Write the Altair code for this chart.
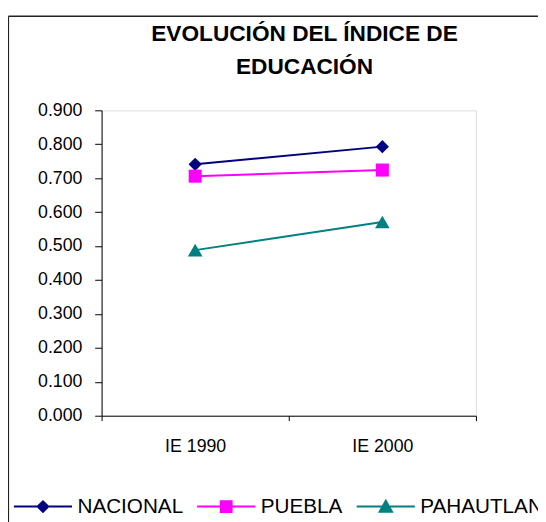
import altair as alt
import pandas as pd

categories = ["IE 1990", "IE 2000"]
series = ["NACIONAL", "PUEBLA", "PAHAUTLAN"]
nacional = [0.741, 0.793]
puebla = [0.706, 0.724]
pahautlan = [0.488, 0.571]
colors = ["#000080", "#FF00FF", "#008080"]
plot_shapes = ["diamond", "square", "triangle-up"]
plot_sizes = [180, 175, 220]
legend_shapes = [
    "M-1,-0.034H1V0.034H-1ZM0,-0.23L0.23,0L0,0.23L-0.23,0Z",
    "M-1,-0.034H1V0.034H-1ZM-0.22,-0.22H0.22V0.22H-0.22Z",
    "M-1,-0.034H1V0.034H-1ZM0,-0.27L0.27,0.21L-0.27,0.21Z",
]
y_ticks = [0.0, 0.1, 0.2, 0.3, 0.4, 0.5, 0.6, 0.7, 0.8, 0.9]

rows = []
for name, vals in zip(series, [nacional, puebla, pahautlan]):
    for c, v in zip(categories, vals):
        rows.append({"serie": name, "cat": c, "valor": v})
df = pd.DataFrame(rows)

FONT = "Liberation Sans"

x = alt.X(
    "cat:N",
    title=None,
    sort=categories,
    scale=alt.Scale(type="band", paddingInner=0, paddingOuter=0),
    axis=alt.Axis(
        labelAngle=0, tickBand="extent", tickSize=5, labelPadding=17,
        labelFontSize=18, labelFont=FONT, labelColor="black",
        domainColor="black", tickColor="black", grid=False,
    ),
)
y = alt.Y(
    "valor:Q",
    title=None,
    scale=alt.Scale(domain=[0, 0.9], nice=False, zero=True),
    axis=alt.Axis(
        values=y_ticks, format=".3f", tickSize=7, labelPadding=13,
        labelFontSize=18, labelFont=FONT, labelColor="black",
        domainColor="black", tickColor="black", grid=False,
    ),
)

base = alt.Chart(df)

series_layers = []
for s, col, shp, sz in zip(series, colors, plot_shapes, plot_sizes):
    sub = base.transform_filter(alt.datum.serie == s)
    series_layers.append(sub.mark_line(strokeWidth=2, color=col).encode(x=x, y=y))
    series_layers.append(
        sub.mark_point(filled=True, opacity=1, strokeWidth=0, shape=shp, size=sz, color=col)
        .encode(x=x, y=y)
    )

leg = alt.Legend(
    title=None, orient="none", legendX=-89, legendY=372.5, direction="horizontal",
    columnPadding=14, labelOffset=5.5, symbolSize=3481, symbolStrokeWidth=0,
    symbolOpacity=1,
    labelFontSize=21, labelFont=FONT, labelColor="black", padding=0,
)
legend_layer = base.mark_point(filled=True, strokeWidth=0, opacity=1).encode(
    x=x, y=y,
    color=alt.Color("serie:N", scale=alt.Scale(domain=series, range=colors), legend=leg),
    shape=alt.Shape("serie:N", scale=alt.Scale(domain=series, range=legend_shapes), legend=leg),
    size=alt.value(0),
)

frame_df = pd.DataFrame({"k": [0]})
frame_left = alt.Chart(frame_df).mark_rule(color="#222222", strokeWidth=1.2).encode(
    x=alt.value(-94.5), y=alt.value(-95.5), y2=alt.value(420)
)
frame_top = alt.Chart(frame_df).mark_rule(color="#222222", strokeWidth=1.5).encode(
    x=alt.value(-94.5), x2=alt.value(450), y=alt.value(-95.5)
)

chart = (
    alt.layer(frame_left, frame_top, *series_layers, legend_layer)
    .properties(
        width=380,
        height=310,
        padding={"left": 95, "top": 100, "right": 63, "bottom": 104},
        autosize=alt.AutoSizeParams(type="none"),
        title=alt.Title(
            ["EVOLUCIÓN DEL ÍNDICE DE", "EDUCACIÓN"],
            fontSize=23, font=FONT, fontWeight="bold", color="black",
            lineHeight=33, anchor="middle", dx=16, offset=10, dy=74,
        ),
    )
    .configure_view(stroke="#8c8c8c", strokeWidth=2)
    .configure(background="white")
)

chart.save("out.html", embed_options={"renderer": "svg", "actions": False})
